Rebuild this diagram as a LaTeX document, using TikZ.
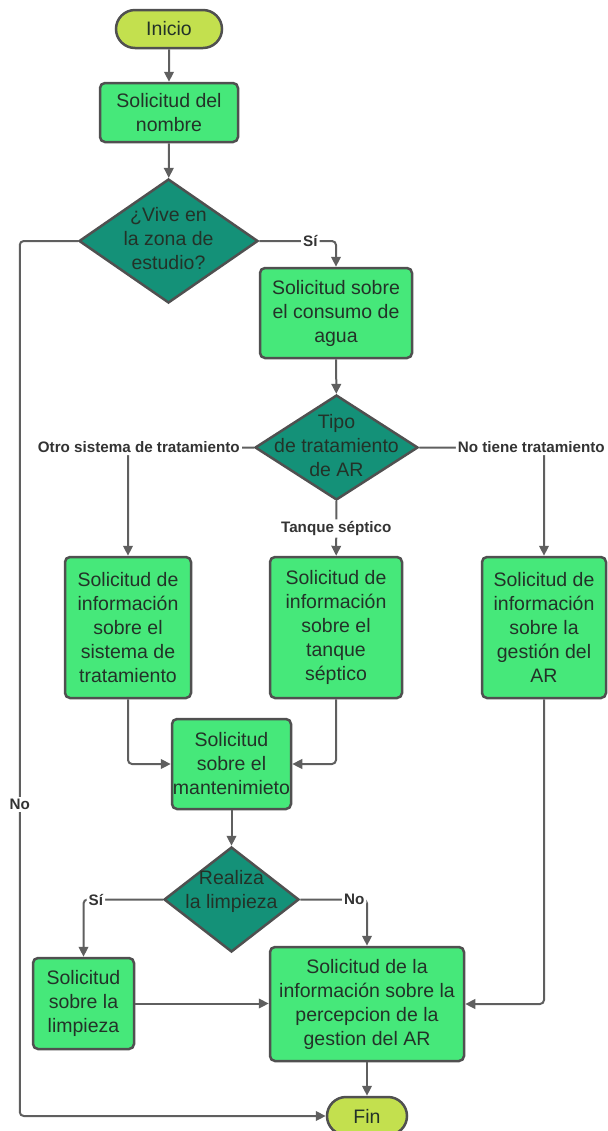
\documentclass[tikz,border=0pt]{standalone}
\usepackage{fontspec}
\setmainfont{Liberation Sans}
\usetikzlibrary{positioning,arrows.meta,shapes.geometric,shapes.misc,calc}
\definecolor{boxgreen}{RGB}{70,232,122}
\definecolor{decteal}{RGB}{20,145,120}
\definecolor{termlime}{RGB}{195,224,78}
\definecolor{edgegray}{RGB}{80,80,80}
\definecolor{arrgray}{RGB}{95,95,95}
\definecolor{txtdark}{RGB}{35,50,40}
\newcommand{\dtxt}[2][0pt]{\makebox[0pt]{\raisebox{\dimexpr#1-.25em\relax}[0pt][0pt]{\begin{tabular}{@{}c@{}}#2\end{tabular}}}}

\begin{document}
\begin{tikzpicture}[x=0.5pt,y=-0.5pt,font=\fontsize{9.75pt}{12pt}\selectfont]
\tikzset{
  ST/.style={draw=edgegray,fill=termlime,line width=1.25pt,rounded rectangle,minimum width=53pt,minimum height=19pt,inner sep=0pt,text=txtdark},
  BX/.style={draw=edgegray,fill=boxgreen,line width=1.25pt,rectangle,rounded corners=2.5pt,align=center,inner sep=0pt,text=txtdark},
  DC/.style={draw=edgegray,fill=decteal,line width=1.25pt,diamond,inner sep=0pt,text=txtdark},
  FL/.style={-{Triangle[length=5pt,width=4.8pt]},line width=1pt,arrgray,rounded corners=2pt},
  lb/.style={font=\fontsize{7.6pt}{9pt}\selectfont\bfseries,text=black!80,fill=white,inner sep=1pt},
}
\useasboundingbox (0,0) rectangle (608,1131);

\node[ST](inicio) at (169,29){Inicio};
\node[BX,minimum width=69pt,minimum height=29.5pt](nom) at (169,112.5){Solicitud del\\nombre};
\node[DC,minimum width=89.5pt,minimum height=62pt](d1) at (168.5,241){\dtxt{¿Vive en\\la zona de\\estudio?}};
\node[BX,minimum width=76pt,minimum height=45pt](agua) at (336,313){Solicitud sobre\\el consumo de\\agua};
\node[DC,minimum width=81.5pt,minimum height=52.5pt](d2) at (336.5,447.5){\dtxt{Tipo\\de tratamiento\\de AR}};

\node[BX,minimum width=63pt,minimum height=70.5pt](bxA) at (128,627.5){Solicitud de\\información\\sobre el\\sistema de\\tratamiento};
\node[BX,minimum width=66pt,minimum height=70.5pt](bxB) at (336,627.5){Solicitud de\\información\\sobre el\\tanque\\séptico};
\node[BX,minimum width=62pt,minimum height=70.5pt](bxC) at (544,627.5){Solicitud de\\información\\sobre la\\gestión del\\AR};

\node[BX,minimum width=59.5pt,minimum height=45pt](mant) at (231.5,764){Solicitud\\sobre el\\mantenimieto};
\node[DC,minimum width=67.5pt,minimum height=52.5pt](d3) at (231.5,899.5){\dtxt[4pt]{Realiza\\la limpieza}};
\node[BX,minimum width=50.5pt,minimum height=45.5pt](limp) at (83.5,1003.5){Solicitud\\sobre la\\limpieza};
\node[BX,minimum width=97pt,minimum height=57pt](perc) at (367,1004){Solicitud de la\\información sobre la\\percepcion de la\\gestion del AR};
\node[ST,minimum width=40pt](fin) at (367,1116){Fin};

\draw[FL](inicio)--(nom);
\draw[FL](nom)--(d1);
\draw[FL](d1.east)-|node[lb,pos=0.333]{Sí}(agua.north);
\draw[FL](agua)--(d2);

\draw[FL](d2.west)-|node[lb,pos=0.457]{Otro sistema de tratamiento}(bxA.north);
\draw[FL](d2.east)-|node[lb,pos=0.449]{No tiene tratamiento}(bxC.north);
\draw[FL](d2)--node[lb]{Tanque séptico}(bxB);

\draw[FL](bxA.south)|-(mant.west);
\draw[FL](bxB.south)|-(mant.east);
\draw[FL](mant)--(d3);

\draw[FL](d3.west)-|node[lb,pos=0.422]{Sí}(limp.north);
\draw[FL](d3.east)-|node[lb,pos=0.404]{No}(perc.north);
\draw[FL](limp.east)--(limp.east-|perc.west);
\draw[FL](bxC.south)|-(perc.east);
\draw[FL](perc)--(fin);

\draw[FL](d1.west)--++(-58,0)|-node[lb,pos=0.322]{No}(fin.west);

\end{tikzpicture}
\end{document}
